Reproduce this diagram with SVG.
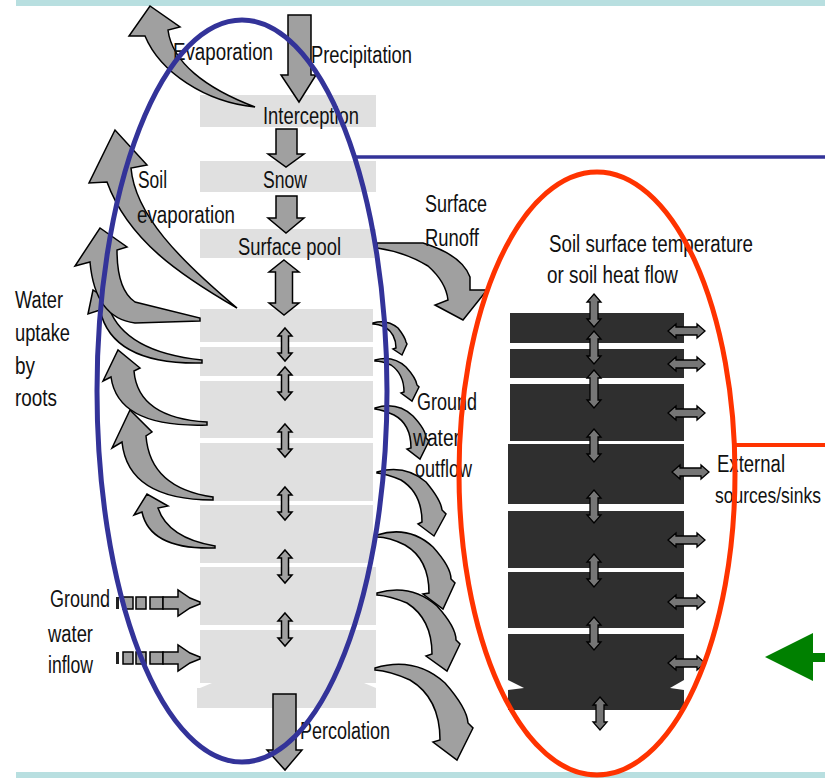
<svg xmlns="http://www.w3.org/2000/svg" xmlns:xlink="http://www.w3.org/1999/xlink" width="825" height="778" viewBox="0 0 825 778">
<style>
.ga{fill:#a0a0a0;stroke:#000;stroke-width:1.5;stroke-linejoin:miter}
.da{fill:#767676;stroke:#000;stroke-width:1.3}
.lay{fill:#e0e0e0}
.blk{fill:#2f2f2f}
.t{font-family:"Liberation Sans",Arial,sans-serif;font-size:23px;fill:#111}
.bar{fill:#b8dfe0}
</style>
<defs>
<path id="va" d="M0,0 L7,8 L3.5,8 L3.5,25 L7,25 L0,33 L-7,25 L-3.5,25 L-3.5,8 L-7,8 Z"/>
<path id="ha" d="M0,0 L8,-7 L8,-4 L29,-4 L29,-7 L37,0 L29,7 L29,4 L8,4 L8,7 Z"/>
<path id="vb" d="M0,0 L7,8 L4,8 L4,25 L7,25 L0,33 L-7,25 L-4,25 L-4,8 L-7,8 Z"/>
</defs>
<rect width="825" height="778" fill="#fff"/>
<rect class="bar" x="16" y="0" width="809" height="6"/>
<rect class="bar" x="16" y="772" width="809" height="6"/>

<g id="water-column">
<rect class="lay" x="200" y="95" width="176" height="32"/>
<rect class="lay" x="200" y="161" width="176" height="31"/>
<rect class="lay" x="200" y="229" width="176" height="29"/>
<rect class="lay" x="200" y="309" width="173" height="33"/>
<rect class="lay" x="200" y="347" width="173" height="29"/>
<rect class="lay" x="200" y="381" width="173" height="57"/>
<rect class="lay" x="200" y="443" width="173" height="58"/>
<rect class="lay" x="200" y="505" width="173" height="58"/>
<rect class="lay" x="200" y="567" width="176" height="58"/>
<rect class="lay" x="200" y="630" width="176" height="53"/>
<rect class="lay" x="197" y="683" width="179" height="25"/>
<polygon points="197,683 212,683 200,688 197,688" fill="#fff"/>
<polygon points="376,683 364,683 376,688" fill="#fff"/>
</g>

<g id="heat-column">
<rect class="blk" x="510" y="313" width="174" height="30"/>
<rect class="blk" x="510" y="349" width="174" height="29"/>
<rect class="blk" x="510" y="384" width="174" height="57"/>
<rect class="blk" x="508" y="444" width="176" height="60"/>
<rect class="blk" x="508" y="511" width="176" height="57"/>
<rect class="blk" x="508" y="572" width="176" height="56"/>
<rect class="blk" x="508" y="634" width="176" height="76"/>
<polygon points="508,680 524,688 508,690" fill="#fff"/>
<polygon points="684,680 670,688 684,690" fill="#fff"/>
</g>

<g id="connectors">
<!-- evaporation -->
<path class="ga" d="M255,107 C205,102 160,72 145,36 L129,36 L150,6 L180,27 L168,30 C172,62 205,88 255,107 Z"/>
<!-- precipitation -->
<path class="ga" d="M288,15 L311,15 L311,75 L316,75 L299,102 L281,75 L288,75 Z"/>
<!-- interception to snow -->
<path class="ga" d="M276,129 L297,129 L297,154 L304,154 L286,167 L268,154 L276,154 Z"/>
<!-- snow to surface pool -->
<path class="ga" d="M276,196 L297,196 L297,218 L304,218 L286,233 L268,218 L276,218 Z"/>
<!-- surface pool to soil -->
<path class="ga" d="M284,260 L299,272 L292.5,272 L292.5,303 L299,303 L284,315 L269,303 L275.5,303 L275.5,272 L269,272 Z"/>
<!-- percolation -->
<path class="ga" d="M273,694 L296,694 L296,750 L302,750 L285,770 L267,750 L273,750 Z"/>
<!-- soil evaporation -->
<path class="ga" d="M237,308 C180,275 128,240 107,182 L89,183 L115,130 L147,165 L131,168 C135,215 180,260 237,308 Z"/>
<!-- water uptake by roots -->
<path class="ga" d="M215,548 Q150,550 142,512 L134,515 L147,494 L168,506 L158,508 Q168,538 215,546 Z"/>
<path class="ga" d="M213,500 Q128,500 122,442 L112,448 L130,410 L152,432 L146,436 Q150,488 213,497 Z"/>
<path class="ga" d="M207,425 Q118,428 111,377 L103,381 L118,350 L140,368 L134,371 Q138,418 207,422 Z"/>
<path class="ga" d="M202,363 Q112,365 100,310 L88,314 L93,290 L114,304 L109,308 Q125,352 202,360 Z"/>
<path class="ga" d="M200,321 L135,323 Q95,318 90,262 L75,266 L100,228 L127,247 L117,250 Q117,290 135,302 L200,318 Z"/>
<!-- surface runoff -->
<path class="ga" d="M377,243 L423,243 Q462,255 470,277 L470,290 L487,290 L463,320 L435,305 L448,300 Q446,282 428,266 Q405,252 377,248 Z"/>
<!-- groundwater outflow -->
<path class="ga" d="M373,323 Q387,319 398,328 Q405,337 406,342 L407,344 L402,355 L393,349 L396,348 Q396,334 385,327 Q378,324 373,324 Z"/>
<path class="ga" d="M375,360 Q393,355 406,367 Q416,378 417,385 L419,387 L412,401 L401,393 L404,392 Q404,374 391,365 Q382,361 375,361 Z"/>
<path class="ga" d="M375,408 Q397,401 413,416 Q426,430 426,438 L429,441 L420,459 L407,449 L411,448 Q411,424 394,415 Q383,410 375,409 Z"/>
<path class="ga" d="M377,472 Q405,464 426,482 Q441,500 442,510 L446,514 L434,536 L418,524 L422,522 Q422,493 401,480 Q387,474 377,473 Z"/>
<path class="ga" d="M377,535 Q409,525 433,547 Q451,567 451,579 L455,583 L443,609 L423,594 L429,593 Q429,559 405,545 Q389,537 377,537 Z"/>
<path class="ga" d="M377,593 Q411,583 437,606 Q456,627 456,640 L460,644 L447,671 L426,656 L432,654 Q432,619 407,603 Q390,596 377,595 Z"/>
<path class="ga" d="M375,668 Q415,656 445,683 Q467,708 468,723 L473,728 L457,760 L433,742 L440,740 Q440,698 410,680 Q390,671 375,670 Z"/>
<!-- groundwater inflow -->
<g id="inflow-1">
<rect x="116" y="597" width="3" height="12" fill="#222"/>
<rect x="123" y="597" width="10" height="12" class="ga"/>
<rect x="136" y="597" width="10" height="12" class="ga"/>
<rect x="150" y="597" width="13" height="12" class="ga"/>
<path class="ga" d="M163,597 L178,597 L178,590 L190,598 L200,602 L200,604 L190,608 L178,616 L178,609 L163,609 Z"/>
</g>
<g id="inflow-2">
<rect x="116" y="652" width="3" height="12" fill="#222"/>
<rect x="123" y="652" width="10" height="12" class="ga"/>
<rect x="136" y="652" width="10" height="12" class="ga"/>
<rect x="150" y="652" width="13" height="12" class="ga"/>
<path class="ga" d="M163,652 L178,652 L178,645 L190,653 L200,657 L200,659 L190,663 L178,671 L178,664 L163,664 Z"/>
</g>
<!-- water column internal flows -->
<use href="#va" x="285" y="328" class="ga"/>
<use href="#va" x="285" y="367" class="ga"/>
<use href="#va" x="285" y="424" class="ga"/>
<use href="#va" x="285" y="487" class="ga"/>
<use href="#va" x="285" y="550" class="ga"/>
<use href="#va" x="285" y="613" class="ga"/>
<!-- heat column vertical flows -->
<use href="#vb" x="594" y="294" class="da"/>
<use href="#vb" x="594" y="331" class="da"/>
<path class="da" d="M594,370 L601,378 L598,378 L598,400 L601,400 L594,408 L587,400 L590,400 L590,378 L587,378 Z"/>
<use href="#vb" x="594" y="429" class="da"/>
<use href="#vb" x="594" y="490" class="da"/>
<use href="#vb" x="594" y="554" class="da"/>
<use href="#vb" x="594" y="617" class="da"/>
<use href="#vb" x="600" y="697" class="da"/>
<!-- heat column lateral flows -->
<use href="#ha" x="668" y="331" class="da"/>
<use href="#ha" x="668" y="364" class="da"/>
<use href="#ha" x="668" y="413" class="da"/>
<use href="#ha" x="672" y="472" class="da"/>
<use href="#ha" x="668" y="540" class="da"/>
<use href="#ha" x="668" y="602" class="da"/>
<use href="#ha" x="668" y="663" class="da"/>
</g>

<g id="labels">
<text class="t" x="173" y="60" textLength="100" lengthAdjust="spacingAndGlyphs">Evaporation</text>
<text class="t" x="311" y="63" textLength="101" lengthAdjust="spacingAndGlyphs">Precipitation</text>
<text class="t" x="263" y="124" textLength="96" lengthAdjust="spacingAndGlyphs">Interception</text>
<text class="t" x="263" y="188" textLength="44" lengthAdjust="spacingAndGlyphs">Snow</text>
<text class="t" x="238" y="255" textLength="103" lengthAdjust="spacingAndGlyphs">Surface pool</text>
<text class="t" x="138" y="188" textLength="29" lengthAdjust="spacingAndGlyphs">Soil</text>
<text class="t" x="137" y="223" textLength="98" lengthAdjust="spacingAndGlyphs">evaporation</text>
<text class="t" x="15" y="308" textLength="48" lengthAdjust="spacingAndGlyphs">Water</text>
<text class="t" x="15" y="341" textLength="55" lengthAdjust="spacingAndGlyphs">uptake</text>
<text class="t" x="15" y="374" textLength="20" lengthAdjust="spacingAndGlyphs">by</text>
<text class="t" x="15" y="406" textLength="42" lengthAdjust="spacingAndGlyphs">roots</text>
<text class="t" x="50" y="607" textLength="60" lengthAdjust="spacingAndGlyphs">Ground</text>
<text class="t" x="48" y="642" textLength="45" lengthAdjust="spacingAndGlyphs">water</text>
<text class="t" x="48" y="673" textLength="45" lengthAdjust="spacingAndGlyphs">inflow</text>
<text class="t" x="300" y="739" textLength="90" lengthAdjust="spacingAndGlyphs">Percolation</text>
<text class="t" x="425" y="212" textLength="62" lengthAdjust="spacingAndGlyphs">Surface</text>
<text class="t" x="425" y="246" textLength="54" lengthAdjust="spacingAndGlyphs">Runoff</text>
<text class="t" x="549" y="252" textLength="204" lengthAdjust="spacingAndGlyphs">Soil surface temperature</text>
<text class="t" x="547" y="283" textLength="131" lengthAdjust="spacingAndGlyphs">or soil heat flow</text>
<text class="t" x="417" y="410" textLength="60" lengthAdjust="spacingAndGlyphs">Ground</text>
<text class="t" x="413" y="446" textLength="47" lengthAdjust="spacingAndGlyphs">water</text>
<text class="t" x="415" y="477" textLength="57" lengthAdjust="spacingAndGlyphs">outflow</text>
<text class="t" x="717" y="472" textLength="68" lengthAdjust="spacingAndGlyphs">External</text>
<text x="0" y="0" transform="matrix(1,0,0,1.28,715,503)" style="font-family:'Liberation Sans',Arial,sans-serif;font-size:17.5px;fill:#111">sources/sinks</text>
</g>

<g id="highlights">
<ellipse cx="242" cy="391" rx="145" ry="371" fill="none" stroke="#333399" stroke-width="5"/>
<line x1="355" y1="157" x2="825" y2="157" stroke="#333399" stroke-width="3.5"/>
<ellipse cx="597" cy="473.5" rx="138" ry="301.5" fill="none" stroke="#ff3300" stroke-width="5"/>
<line x1="734" y1="445" x2="825" y2="445" stroke="#ff3300" stroke-width="4"/>
<polygon points="765,657 813,633 813,653 825,653 825,662 813,662 813,681" fill="#008000"/>
</g>
</svg>
